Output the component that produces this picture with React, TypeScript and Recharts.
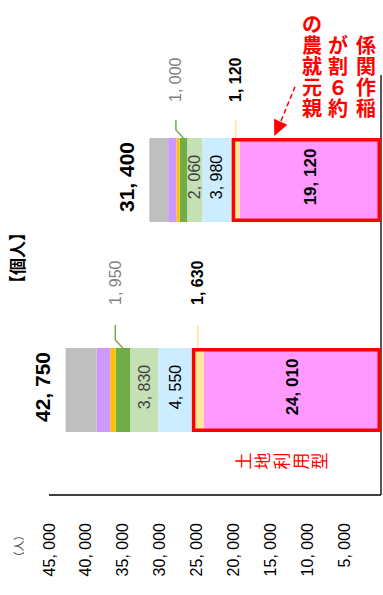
import React from 'react';
import { BarChart, Bar, XAxis, YAxis, Customized } from 'recharts';

// ---- data (top bar first) ----
const categories = ['親元就農', '新規自営農業就農者'];
const totals = [31400, 42750];
const rice = [19120, 24010];
const upland = [1120, 1630];
const openVeg = [3980, 4550];
const houseVeg = [2060, 3830];
const fruit = [1000, 1950];
const flowers = [450, 730];
const livestock = [1120, 1850];
const others = [2550, 4200];
const valueTicks = [5000, 10000, 15000, 20000, 25000, 30000, 35000, 40000, 45000];

const unitText = '（人）';
const groupText = '【個人】';
const boxText = '土地利用型';
const noteLines = ['親元就農の', '約６割が', '稲作関係'];

const data = categories.map((name, i) => ({
  name,
  rice: rice[i],
  upland: upland[i],
  openVeg: openVeg[i],
  houseVeg: houseVeg[i],
  fruit: fruit[i],
  flowers: flowers[i],
  livestock: livestock[i],
  others: others[i],
}));

const NUM_FONT = "'Liberation Sans', Arial, sans-serif";
const JP_FONT = "'Noto Sans CJK JP', 'Noto Sans', sans-serif";

const fmt = (n: number) => n.toLocaleString('en-US').replace(/,/g, ', ');

function rectOf(p: any) {
  const vb = p.viewBox || {};
  const x = Number(vb.x ?? p.x);
  const y = Number(vb.y ?? p.y);
  const w = Number(vb.width ?? p.width);
  const h = Number(vb.height ?? p.height);
  return {
    left: Math.min(x, x + w),
    right: Math.max(x, x + w),
    top: Math.min(y, y + h),
    bottom: Math.max(y, y + h),
  };
}

const innerLabel = (values: number[], style: any) => (p: any) => {
  const i = p.index;
  if (i == null || values[i] == null) return null;
  const r = rectOf(p);
  const cx = (r.left + r.right) / 2;
  const cy = (r.top + r.bottom) / 2 - 3;
  return (
    <text
      key={`in-${i}`}
      transform={`translate(${cx},${cy}) rotate(-90)`}
      textAnchor="middle"
      dominantBaseline="central"
      fontFamily={NUM_FONT}
      {...style}
    >
      {fmt(values[i])}
    </text>
  );
};

const LEADER_LEN = [18, 23];
const LABEL_GAP = [36, 43];

const leaderLabel = (values: number[], lineColor: string, kinked: boolean, style: any) => (p: any) => {
  const i = p.index;
  if (i == null || values[i] == null) return null;
  const r = rectOf(p);
  const cx = (r.left + r.right) / 2;
  const top = r.top;
  const dx = kinked ? -7.5 : 0;
  const len = LEADER_LEN[i] ?? 20;
  const gap = LABEL_GAP[i] ?? 40;
  const pts = kinked
    ? `${cx},${top} ${cx + dx},${top - 8} ${cx + dx},${top - len}`
    : `${cx},${top} ${cx},${top - len}`;
  return (
    <g key={`ld-${i}`}>
      <polyline points={pts} fill="none" stroke={lineColor} strokeWidth={1.5} />
      <text
        transform={`translate(${cx + dx},${top - gap}) rotate(-90)`}
        textAnchor="start"
        dominantBaseline="central"
        fontFamily={NUM_FONT}
        {...style}
      >
        {fmt(values[i])}
      </text>
    </g>
  );
};

// drawn by the last (left-most) segment so it sits on top of every bar
const outerLabel = (p: any) => {
  const i = p.index;
  if (i == null || others[i] == null) return null;
  const r = rectOf(p);
  const k = (r.right - r.left) / others[i];
  const zeroX = r.right + (totals[i] - others[i]) * k;
  const boxLeft = r.right + (totals[i] - others[i] - rice[i] - upland[i]) * k;
  const sw = 3.5;
  return (
    <g key={`out-${i}`}>
      <rect
        x={boxLeft + sw / 2}
        y={r.top + sw / 2}
        width={zeroX - boxLeft - sw}
        height={r.bottom - r.top - sw}
        fill="none"
        stroke="#FF0000"
        strokeWidth={sw}
      />
      <text
        transform={`translate(${r.left - 23},${(r.top + r.bottom) / 2 - 3}) rotate(-90)`}
        textAnchor="middle"
        dominantBaseline="central"
        fontFamily={NUM_FONT}
        fontSize={21}
        fontWeight="bold"
        fill="#000"
      >
        {fmt(totals[i])}
      </text>
    </g>
  );
};

const AxisTick = (p: any) => (
  <text
    transform={`translate(${p.x},${p.y}) rotate(-90)`}
    textAnchor="end"
    dominantBaseline="central"
    fontFamily={NUM_FONT}
    fontSize={16}
    fill="#000"
  >
    {fmt(p.payload.value)}
  </text>
);

const NOTE_X = [312, 338, 366];
const NOTE_BOTTOM = 107.4;
const NOTE_PITCH = 21.2;

const Annotations = () => (
  <g>
    <text
      transform="translate(16,258) rotate(-90)"
      textAnchor="middle"
      dominantBaseline="central"
      fontFamily={JP_FONT}
      fontWeight="bold"
      fontSize={17}
      fill="#000"
    >
      {groupText}
    </text>
    <text
      transform="translate(17.5,546) rotate(-90)"
      textAnchor="middle"
      dominantBaseline="central"
      fontFamily={JP_FONT}
      fontSize={11}
      fill="#404040"
    >
      {unitText}
    </text>
    {noteLines.map((line, li) => (
      <text
        key={`n-${li}`}
        textAnchor="middle"
        dominantBaseline="central"
        fontFamily={JP_FONT}
        fontWeight="bold"
        fontSize={20}
        fill="#FF0000"
      >
        {Array.from(line).map((ch, ci) => (
          <tspan key={ci} x={NOTE_X[li]} y={NOTE_BOTTOM - ci * NOTE_PITCH}>
            {ch}
          </tspan>
        ))}
      </text>
    ))}
    <line x1={295} y1={86.7} x2={281} y2={121} stroke="#FF0000" strokeWidth={1.5} strokeDasharray="5 3" />
    <polygon points="274.3,136 274,118.7 287.3,124.7" fill="#FF0000" />
    {Array.from(boxText).map((ch, ci) => (
      <text
        key={`b-${ci}`}
        transform={`translate(${242 + ci * 19},461) rotate(-90)`}
        textAnchor="middle"
        dominantBaseline="central"
        fontFamily={JP_FONT}
        fontSize={17}
        fill="#FF0000"
      >
        {ch}
      </text>
    ))}
  </g>
);

export default function App() {
  return (
    <div style={{ position: 'absolute', left: 0, top: 0, background: '#fff' }}>
      <BarChart
        width={383}
        height={595}
        data={data}
        layout="vertical"
        margin={{ top: 75, right: 0, bottom: 0, left: 49 }}
        barSize={84}
      >
        <XAxis
          type="number"
          domain={[0, 45000]}
          reversed
          ticks={valueTicks}
          interval={0}
          tickLine={false}
          tickSize={0}
          tickMargin={28}
          height={100}
          axisLine={{ stroke: '#000', strokeWidth: 1.3 }}
          tick={<AxisTick />}
        />
        <YAxis
          type="category"
          dataKey="name"
          orientation="right"
          width={2}
          tick={false}
          tickLine={false}
          axisLine={{ stroke: '#000', strokeWidth: 1.3 }}
        />
        <Bar dataKey="rice" stackId="s" fill="#FF99FF" isAnimationActive={false}
          label={innerLabel(rice, { fontSize: 17, fontWeight: 'bold', fill: '#000' })} />
        <Bar dataKey="upland" stackId="s" fill="#FFE699" isAnimationActive={false}
          label={leaderLabel(upland, '#FFE699', false, { fontSize: 16, fontWeight: 'bold', fill: '#000' })} />
        <Bar dataKey="openVeg" stackId="s" fill="#CCECFF" isAnimationActive={false}
          label={innerLabel(openVeg, { fontSize: 16, fill: '#000' })} />
        <Bar dataKey="houseVeg" stackId="s" fill="#C5E0B4" isAnimationActive={false}
          label={innerLabel(houseVeg, { fontSize: 16, fill: '#404040' })} />
        <Bar dataKey="fruit" stackId="s" fill="#70AD47" isAnimationActive={false}
          label={leaderLabel(fruit, '#70AD47', true, { fontSize: 16, fill: '#7F7F7F' })} />
        <Bar dataKey="flowers" stackId="s" fill="#FFC000" isAnimationActive={false} />
        <Bar dataKey="livestock" stackId="s" fill="#CC99FF" isAnimationActive={false} />
        <Bar dataKey="others" stackId="s" fill="#BFBFBF" isAnimationActive={false} label={outerLabel} />
        <Customized component={Annotations} />
      </BarChart>
    </div>
  );
}
